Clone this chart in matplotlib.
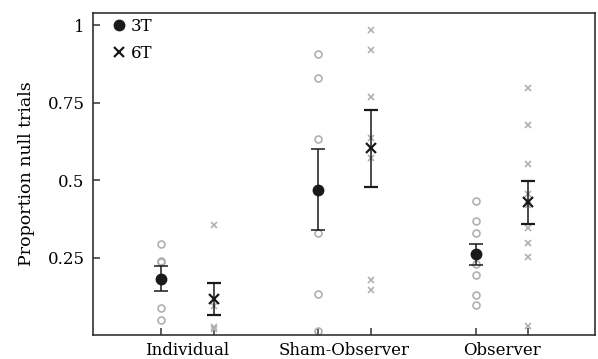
import matplotlib
matplotlib.use("Agg")
import matplotlib.pyplot as plt
from matplotlib.lines import Line2D
import numpy as np

plt.rcParams['font.family'] = ['DejaVu Serif']

groups = ["Individual", "Sham-Observer", "Observer"]

# individual data points
ind_3t = [0.294, 0.240, 0.236, 0.086, 0.047]
ind_6t = [0.356, 0.095, 0.025, 0.020]
sham_3t = [0.906, 0.829, 0.634, 0.329, 0.131, 0.012]
sham_6t = [0.983, 0.921, 0.768, 0.636, 0.572, 0.179, 0.146]
obs_3t = [0.432, 0.367, 0.328, 0.262, 0.230, 0.194, 0.129, 0.098]
obs_6t = [0.797, 0.679, 0.553, 0.456, 0.418, 0.346, 0.297, 0.251, 0.028]

# means and error bar bounds
mean_3t = [0.181, 0.469, 0.260]
err_lo_3t = [0.143, 0.340, 0.226]
err_hi_3t = [0.221, 0.600, 0.292]
mean_6t = [0.116, 0.603, 0.429]
err_lo_6t = [0.066, 0.479, 0.358]
err_hi_6t = [0.167, 0.727, 0.496]

fig = plt.figure(figsize=(5.98, 3.59), dpi=100)
ax = fig.add_axes([0.1555, 0.0669, 0.8395, 0.8969])

pos3 = np.array([0, 3, 6])
pos6 = pos3 + 1
gray = '#b0b0b0'
dark = '#1a1a1a'

for p, vals in zip(pos3, [ind_3t, sham_3t, obs_3t]):
    ax.plot([p] * len(vals), vals, 'o', ms=5, mfc='none', mec=gray, mew=1.2, zorder=2, clip_on=False)
for p, vals in zip(pos6, [ind_6t, sham_6t, obs_6t]):
    ax.plot([p] * len(vals), vals, 'x', ms=5, mec=gray, mew=1.2, zorder=2, clip_on=False)

m3 = np.array(mean_3t); m6 = np.array(mean_6t)
ax.errorbar(pos3, m3, yerr=[m3 - np.array(err_lo_3t), np.array(err_hi_3t) - m3],
            fmt='o', color=dark, ms=7.5, capsize=5, elinewidth=1.1, capthick=1.1, zorder=3)
ax.errorbar(pos6, m6, yerr=[m6 - np.array(err_lo_6t), np.array(err_hi_6t) - m6],
            fmt='x', color=dark, ms=7, mew=1.6, capsize=5, elinewidth=1.1, capthick=1.1, zorder=3)

ax.set_xlim(-1.3, 8.28)
ax.set_ylim(0.0, 1.039)
ax.set_yticks([0.25, 0.5, 0.75, 1.0])
ax.set_yticklabels(['0.25', '0.5', '0.75', '1'])
ax.set_xticks(np.concatenate([pos3, pos6]))
ax.set_xticklabels([])
ax.set_xticks(pos3 + 0.5, minor=True)
ax.set_xticklabels(groups, minor=True)
ax.tick_params(axis='x', which='major', direction='in', length=5, width=1.1, color='#333333')
ax.tick_params(axis='x', which='minor', length=0, pad=5, labelsize=12)
ax.tick_params(axis='y', direction='in', length=5, width=1.1, color='#333333', labelsize=12, pad=6)
for s in ax.spines.values():
    s.set_linewidth(1.2)
    s.set_color('#333333')
ax.set_ylabel('Proportion null trials', fontsize=12.5, labelpad=9)

handles = [Line2D([], [], marker='o', ls='none', color=dark, ms=7.5),
           Line2D([], [], marker='x', ls='none', color=dark, ms=6.5, mew=1.6)]
ax.legend(handles, ['3T', '6T'], loc='upper left', frameon=False, fontsize=12,
          handletextpad=0.1, handlelength=1.2, borderaxespad=0.0, labelspacing=0.6,
          borderpad=0.2, bbox_to_anchor=(0.025, 0.995))

fig.savefig('out.png', dpi=100)
